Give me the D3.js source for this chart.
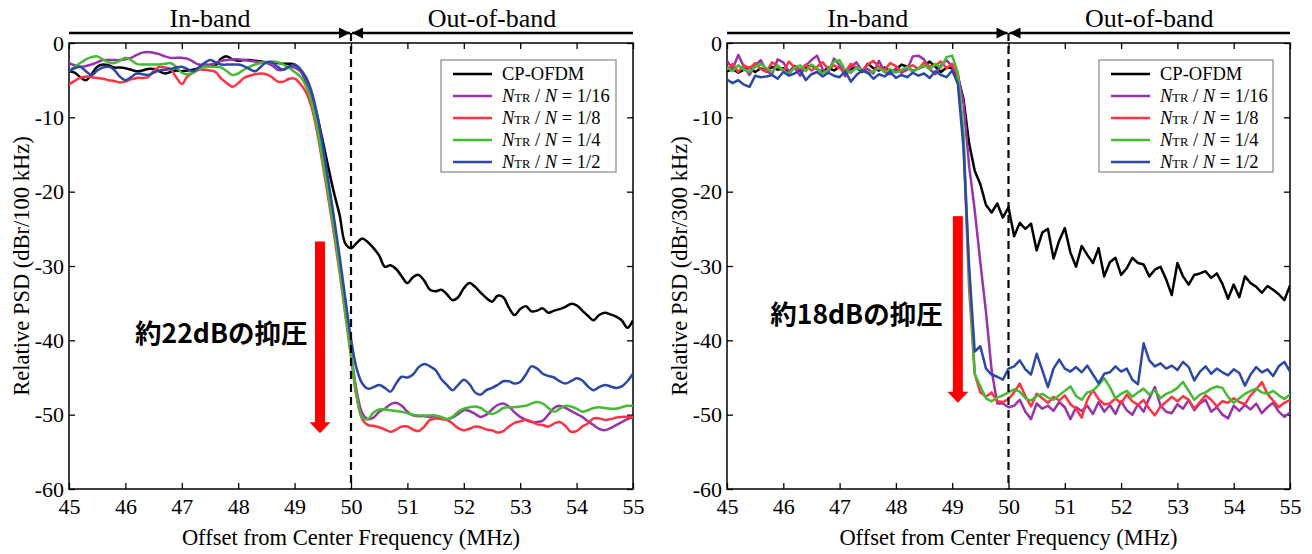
<!DOCTYPE html>
<html lang="ja">
<head>
<meta charset="UTF-8">
<title>PSD comparison</title>
<script src="https://cdn.jsdelivr.net/npm/d3@7"></script>
<style>
  body { margin: 0; background: #fff; }
  text { font-family: "Liberation Serif", "Times New Roman", serif; fill: #000; }
  .jp { font-family: "Noto Sans CJK JP", "Noto Sans", sans-serif; font-weight: bold; }
</style>
</head>
<body>
<svg id="chart" width="1312" height="554"></svg>
<script>
// frequency grid (MHz)
var freq = [45.0,45.1,45.2,45.3,45.4,45.5,45.6,45.7,45.8,45.9,
  46.0,46.1,46.2,46.3,46.4,46.5,46.6,46.7,46.8,46.9,
  47.0,47.1,47.2,47.3,47.4,47.5,47.6,47.7,47.8,47.9,
  48.0,48.1,48.2,48.3,48.4,48.5,48.6,48.7,48.8,48.9,
  49.0,49.1,49.2,49.3,49.4,49.5,49.6,49.7,49.8,49.9,
  50.0,50.1,50.2,50.3,50.4,50.5,50.6,50.7,50.8,50.9,
  51.0,51.1,51.2,51.3,51.4,51.5,51.6,51.7,51.8,51.9,
  52.0,52.1,52.2,52.3,52.4,52.5,52.6,52.7,52.8,52.9,
  53.0,53.1,53.2,53.3,53.4,53.5,53.6,53.7,53.8,53.9,
  54.0,54.1,54.2,54.3,54.4,54.5,54.6,54.7,54.8,54.9,55.0];

var xTicks = [45,46,47,48,49,50,51,52,53,54,55];
var yTicks = [0,-10,-20,-30,-40,-50,-60];

var seriesLabels = ["CP-OFDM", "1/16", "1/8", "1/4", "1/2"];
var seriesColors = ["#000000", "#9933aa", "#ff3344", "#44bb33", "#2b48a8"];

// left panel, 100 kHz RBW
var left_cp = [-3.8,-4.0,-4.6,-5.0,-4.2,-3.2,-2.9,-3.0,-3.3,-3.3,
  -3.4,-3.6,-3.8,-3.7,-3.5,-3.5,-3.8,-4.1,-3.9,-3.7,
  -3.8,-3.7,-3.6,-3.4,-3.2,-3.2,-3.0,-2.1,-1.8,-2.2,
  -2.4,-2.3,-2.3,-2.4,-2.5,-2.6,-2.6,-2.7,-2.8,-2.8,
  -2.9,-3.6,-5.2,-7.0,-9.8,-13.2,-16.8,-20.2,-23.2,-27.0,
  -27.6,-26.9,-26.3,-26.8,-27.6,-28.6,-30.1,-29.9,-30.4,-31.4,
  -32.3,-31.5,-31.2,-32.0,-33.2,-33.4,-33.2,-33.8,-34.6,-34.2,
  -33.0,-32.3,-32.8,-33.6,-34.3,-34.8,-34.0,-34.2,-35.6,-36.6,
  -35.8,-35.4,-36.1,-36.0,-35.7,-36.3,-36.0,-35.8,-35.5,-35.1,
  -35.3,-36.0,-36.7,-37.3,-36.6,-36.3,-36.5,-36.8,-37.3,-38.3,-37.3];
var left_16 = [-2.7,-3.0,-3.2,-3.1,-2.9,-2.6,-2.3,-2.3,-2.3,-2.3,
  -2.2,-2.0,-1.6,-1.3,-1.2,-1.3,-1.5,-1.8,-2.0,-2.0,
  -2.0,-2.1,-2.5,-2.9,-2.9,-2.9,-2.7,-2.4,-2.3,-2.2,
  -2.2,-2.3,-2.4,-2.5,-2.6,-2.7,-3.0,-3.6,-3.6,-3.2,
  -3.3,-3.8,-5.0,-7.3,-10.8,-15.2,-19.8,-24.6,-29.8,-35.6,
  -41.5,-46.8,-49.8,-50.6,-50.4,-49.6,-49.2,-48.6,-48.4,-48.8,
  -49.6,-50.1,-50.2,-50.2,-50.3,-50.2,-50.4,-50.6,-50.4,-49.9,
  -49.4,-49.5,-49.9,-50.3,-50.0,-49.3,-48.7,-48.5,-48.9,-49.7,
  -50.3,-50.7,-51.0,-51.0,-50.8,-50.0,-49.1,-48.8,-49.1,-49.5,
  -49.9,-50.3,-50.9,-51.4,-51.9,-52.1,-51.8,-51.4,-51.0,-50.6,-50.3];
var left_8 = [-5.6,-5.1,-4.7,-4.5,-4.6,-4.7,-4.8,-5.0,-5.1,-5.3,
  -5.2,-4.9,-4.7,-4.7,-4.6,-3.8,-3.2,-3.3,-3.5,-4.6,
  -5.5,-4.5,-4.0,-3.6,-3.6,-3.7,-3.9,-4.8,-5.4,-5.9,
  -5.4,-4.7,-4.4,-4.2,-4.1,-4.2,-4.6,-5.2,-5.2,-4.8,
  -4.8,-5.5,-6.6,-8.6,-12.0,-16.4,-21.0,-25.8,-31.0,-36.6,
  -42.2,-47.6,-50.6,-51.4,-51.5,-51.7,-52.0,-52.3,-52.0,-51.6,
  -51.6,-52.0,-52.2,-51.6,-50.7,-50.5,-50.6,-50.7,-51.2,-51.8,
  -52.1,-51.9,-51.6,-51.7,-52.0,-52.1,-52.4,-52.2,-51.6,-51.1,
  -50.9,-50.7,-50.9,-51.3,-51.4,-51.6,-51.2,-51.0,-51.5,-52.3,
  -52.2,-51.6,-51.2,-50.5,-50.5,-50.7,-50.6,-50.4,-50.3,-50.3,-50.3];
var left_4 = [-3.8,-3.2,-2.7,-2.2,-1.9,-1.8,-2.2,-2.6,-2.7,-2.4,
  -2.0,-2.3,-2.8,-2.9,-2.9,-2.9,-2.9,-2.8,-2.7,-3.2,
  -4.0,-4.2,-4.0,-3.5,-3.2,-3.2,-3.2,-3.3,-3.8,-4.3,
  -4.1,-3.6,-3.2,-2.9,-2.7,-2.6,-2.5,-2.6,-2.9,-3.3,
  -3.9,-4.5,-5.8,-8.0,-11.4,-15.8,-20.4,-25.2,-30.4,-36.2,
  -42.0,-47.4,-50.4,-50.6,-49.7,-49.3,-49.3,-49.4,-49.5,-49.6,
  -49.8,-50.0,-50.1,-50.1,-50.1,-50.1,-50.3,-50.6,-50.3,-49.6,
  -49.2,-49.0,-48.9,-49.1,-49.6,-49.9,-49.6,-49.1,-49.0,-49.0,
  -48.9,-48.8,-48.5,-48.3,-48.5,-49.1,-49.6,-49.2,-48.8,-48.9,
  -49.2,-49.6,-49.4,-49.1,-49.0,-49.1,-49.2,-49.2,-49.0,-48.8,-48.8];
var left_2 = [-3.8,-3.4,-3.2,-3.8,-4.3,-3.7,-3.3,-3.2,-3.6,-4.5,
  -5.0,-4.6,-4.1,-4.2,-4.3,-4.0,-3.7,-3.6,-3.5,-3.3,
  -3.2,-3.5,-3.8,-3.3,-2.7,-2.3,-2.6,-2.9,-2.9,-2.9,
  -2.9,-3.1,-3.5,-3.8,-3.2,-2.6,-2.6,-3.2,-3.6,-3.2,
  -2.9,-3.5,-4.6,-6.5,-9.6,-13.8,-18.6,-23.6,-28.8,-34.4,
  -39.8,-43.8,-45.8,-46.5,-46.3,-46.0,-46.4,-46.9,-45.8,-44.9,
  -45.0,-44.6,-43.6,-43.2,-43.5,-44.0,-45.2,-46.0,-46.7,-46.0,
  -45.3,-45.9,-47.0,-47.3,-46.7,-46.4,-46.0,-45.5,-45.5,-45.8,
  -45.6,-44.6,-43.5,-43.8,-44.5,-44.8,-45.0,-45.5,-45.8,-45.5,
  -45.1,-45.4,-46.2,-46.7,-46.3,-46.0,-46.2,-46.4,-46.2,-45.5,-44.5];

// right panel, 300 kHz RBW
var right_cp = [-3.8,-3.5,-4.0,-3.6,-3.3,-3.9,-3.4,-3.8,-3.2,-3.6,
  -3.4,-3.9,-3.1,-3.6,-3.3,-3.0,-3.5,-3.9,-3.3,-3.7,
  -3.2,-3.8,-3.5,-3.3,-3.9,-2.8,-3.4,-3.7,-3.3,-3.8,
  -3.6,-2.9,-3.2,-3.8,-3.4,-3.1,-2.5,-3.2,-3.9,-3.3,
  -3.4,-4.5,-7.5,-13.5,-17.2,-19.0,-21.8,-22.8,-21.6,-23.5,
  -22.1,-26.0,-24.2,-25.0,-24.3,-27.9,-25.5,-25.0,-29.0,-26.6,
  -24.9,-28.2,-30.1,-27.3,-28.5,-29.6,-27.6,-31.4,-29.5,-28.9,
  -31.2,-30.3,-28.9,-29.6,-29.8,-31.4,-30.5,-30.1,-31.8,-33.9,
  -29.6,-31.4,-32.5,-31.2,-31.0,-30.7,-31.6,-31.0,-32.4,-34.4,
  -32.5,-34.2,-31.4,-32.3,-32.8,-33.6,-32.7,-33.2,-33.8,-34.6,-32.6];
var right_16 = [-2.4,-3.5,-1.6,-3.2,-4.3,-3.0,-2.3,-3.8,-4.2,-2.2,
  -2.6,-3.9,-3.3,-4.4,-3.0,-2.3,-1.7,-3.6,-4.0,-2.1,
  -3.0,-4.5,-3.2,-2.6,-3.8,-3.5,-4.1,-2.4,-3.9,-4.2,
  -3.4,-4.0,-3.6,-1.8,-1.7,-2.2,-3.5,-4.2,-3.0,-2.3,
  -3.2,-4.2,-8.0,-16.5,-22.5,-29.5,-36.2,-44.0,-48.5,-48.5,
  -49.0,-48.8,-48.0,-49.6,-50.6,-48.5,-49.2,-48.8,-49.5,-48.3,
  -49.0,-50.6,-49.0,-49.5,-48.8,-49.9,-48.3,-49.6,-48.7,-49.9,
  -48.2,-49.4,-50.0,-48.6,-49.6,-47.8,-46.3,-48.8,-49.6,-49.8,
  -48.6,-49.2,-48.0,-49.4,-48.5,-48.0,-49.6,-49.0,-50.0,-50.5,
  -48.8,-49.5,-48.7,-49.3,-48.5,-49.8,-49.0,-48.4,-49.6,-50.3,-49.7];
var right_8 = [-3.6,-2.8,-3.9,-3.0,-3.4,-2.7,-3.5,-3.9,-2.6,-3.1,
  -3.8,-2.5,-3.3,-3.6,-2.9,-3.7,-3.2,-2.6,-3.5,-3.0,
  -3.4,-3.9,-2.8,-3.3,-3.7,-2.9,-2.4,-3.2,-3.6,-2.7,
  -3.1,-3.8,-3.3,-3.0,-3.5,-2.6,-3.2,-3.0,-2.5,-3.4,
  -2.8,-4.5,-13.0,-33.0,-44.5,-47.0,-47.6,-47.0,-48.2,-48.3,
  -47.9,-47.0,-45.8,-47.5,-48.9,-47.2,-47.8,-48.4,-47.6,-48.1,
  -47.4,-48.6,-49.2,-50.4,-48.0,-46.7,-47.9,-48.6,-48.5,-47.8,
  -48.5,-47.3,-48.2,-48.7,-48.0,-49.2,-50.1,-48.9,-48.3,-47.6,
  -48.2,-47.5,-48.0,-49.2,-48.3,-47.4,-48.0,-48.9,-48.2,-48.4,
  -47.8,-48.3,-48.6,-47.4,-46.6,-45.6,-47.2,-48.1,-49.0,-48.4,-48.0];
var right_4 = [-3.3,-3.8,-3.0,-3.6,-3.9,-3.2,-2.8,-3.4,-3.9,-3.0,
  -3.7,-4.2,-3.3,-3.0,-3.8,-2.9,-3.4,-4.1,-3.6,-2.5,
  -2.3,-3.7,-4.0,-3.3,-3.6,-4.1,-3.8,-3.4,-3.9,-3.5,
  -4.0,-3.6,-3.2,-3.9,-3.4,-3.0,-3.5,-2.8,-3.3,-1.9,
  -1.7,-4.0,-12.0,-31.0,-44.5,-46.2,-47.8,-48.2,-47.7,-47.4,
  -47.0,-46.6,-46.9,-47.8,-48.1,-47.5,-47.2,-47.7,-48.0,-47.4,
  -46.8,-46.2,-47.5,-48.0,-47.0,-46.8,-46.0,-45.1,-46.3,-47.8,
  -47.2,-46.8,-47.6,-47.0,-46.5,-47.3,-46.7,-47.8,-47.2,-46.9,
  -46.4,-45.6,-46.8,-48.0,-47.3,-47.0,-46.5,-46.2,-46.4,-47.6,
  -48.4,-47.8,-47.2,-46.8,-46.5,-47.0,-47.2,-46.8,-47.4,-47.9,-47.3];
var right_2 = [-4.9,-5.4,-5.0,-5.6,-5.9,-4.4,-4.6,-4.5,-4.3,-4.8,
  -3.9,-4.4,-4.1,-3.7,-5.0,-4.2,-3.9,-4.5,-4.0,-4.4,
  -4.6,-3.8,-5.2,-4.3,-3.7,-4.0,-4.8,-4.2,-4.5,-3.9,
  -4.7,-4.3,-4.6,-4.0,-4.4,-4.1,-4.7,-3.8,-4.3,-4.6,
  -3.7,-5.5,-14.0,-30.0,-41.5,-40.8,-43.8,-44.6,-44.9,-45.3,
  -43.8,-43.5,-42.7,-43.9,-44.6,-41.8,-44.0,-46.3,-43.8,-42.6,
  -43.8,-44.2,-43.6,-44.3,-43.4,-44.6,-45.8,-44.5,-44.3,-43.5,
  -44.2,-43.8,-45.3,-45.9,-40.4,-42.7,-43.5,-43.1,-43.8,-43.4,
  -44.0,-42.9,-43.6,-45.4,-44.2,-43.5,-44.5,-43.8,-44.3,-44.7,
  -43.9,-44.4,-46.1,-44.6,-43.6,-44.3,-43.9,-44.8,-43.5,-42.9,-44.2];

var svg = d3.select("#chart");

var panels = [
  {
    id: "L", x0: 69, x1: 633, yTitle: "Relative PSD (dBr/100 kHz)", titleX: 21,
    series: [left_cp, left_16, left_8, left_4, left_2],
    curve: d3.curveCatmullRom,
    legend: {x: 441, y: 60, w: 175, h: 112},
    note: "約22dBの抑圧", noteAt: [47.7, -40.4],
    arrow: {f: 49.45, from: -26.7, to: -52.5}
  },
  {
    id: "R", x0: 727, x1: 1290, yTitle: "Relative PSD (dBr/300 kHz)", titleX: 679,
    series: [right_cp, right_16, right_8, right_4, right_2],
    curve: d3.curveLinear,
    legend: {x: 1099, y: 60, w: 174, h: 112},
    note: "約18dBの抑圧", noteAt: [47.3, -37.8],
    arrow: {f: 49.1, from: -23.3, to: -48.4}
  }
];

var plotTop = 43, plotBottom = 489, headerY = 33;

svg.append("defs").selectAll("marker")
  .data(["head"])
  .enter().append("marker")
  .attr("id", "head")
  .attr("viewBox", "0 0 10 10")
  .attr("refX", 10).attr("refY", 5)
  .attr("markerWidth", 5).attr("markerHeight", 4.4)
  .attr("markerUnits", "strokeWidth")
  .attr("orient", "auto")
  .append("path").attr("d", "M0,0L10,5L0,10z").attr("fill", "#000");

panels.forEach(function (p) {
  var x = d3.scaleLinear().domain([45, 55]).range([p.x0, p.x1]);
  var y = d3.scaleLinear().domain([-60, 0]).range([plotBottom, plotTop]);
  var g = svg.append("g");

  g.append("clipPath").attr("id", "clip" + p.id)
    .append("rect").attr("x", p.x0).attr("y", plotTop)
    .attr("width", p.x1 - p.x0).attr("height", plotBottom - plotTop);

  // axes with inward ticks
  g.append("g").attr("transform", "translate(0," + plotBottom + ")")
    .call(d3.axisBottom(x).tickValues(xTicks).tickSize(-6).tickPadding(9).tickFormat(d3.format("d")))
    .call(styleAxis);
  g.append("g").attr("transform", "translate(0," + plotTop + ")")
    .call(d3.axisTop(x).tickValues(xTicks).tickSize(-6).tickFormat(""))
    .call(styleAxis);
  g.append("g").attr("transform", "translate(" + p.x0 + ",0)")
    .call(d3.axisLeft(y).tickValues(yTicks).tickSize(-6).tickPadding(5).tickFormat(function (d) { return String(d); }))
    .call(styleAxis);
  g.append("g").attr("transform", "translate(" + p.x1 + ",0)")
    .call(d3.axisRight(y).tickValues(yTicks).tickSize(-6).tickFormat(""))
    .call(styleAxis);

  g.append("rect").attr("x", p.x0).attr("y", plotTop)
    .attr("width", p.x1 - p.x0).attr("height", plotBottom - plotTop)
    .attr("fill", "none").attr("stroke", "#000").attr("stroke-width", 1.5);

  // curves
  var line = d3.line()
    .x(function (d, i) { return x(freq[i]); })
    .y(function (d) { return y(d); })
    .curve(p.curve);
  g.append("g").attr("clip-path", "url(#clip" + p.id + ")")
    .selectAll("path").data(p.series).enter().append("path")
    .attr("d", line)
    .attr("fill", "none")
    .attr("stroke", function (d, i) { return seriesColors[i]; })
    .attr("stroke-width", 2.5)
    .attr("stroke-linejoin", "round");

  // band boundary
  g.append("line").attr("x1", x(50)).attr("x2", x(50))
    .attr("y1", headerY).attr("y2", plotBottom)
    .attr("stroke", "#000").attr("stroke-width", 2.2).attr("stroke-dasharray", "8,5");

  // header arrows
  g.append("line").attr("x1", x(45)).attr("x2", x(50) - 1)
    .attr("y1", headerY).attr("y2", headerY)
    .attr("stroke", "#000").attr("stroke-width", 2.5).attr("marker-end", "url(#head)");
  g.append("line").attr("x1", x(55)).attr("x2", x(50) + 1)
    .attr("y1", headerY).attr("y2", headerY)
    .attr("stroke", "#000").attr("stroke-width", 2.5).attr("marker-end", "url(#head)");
  g.append("text").attr("x", x(47.5)).attr("y", 27).attr("text-anchor", "middle")
    .attr("font-size", 26).text("In-band");
  g.append("text").attr("x", x(52.5)).attr("y", 27).attr("text-anchor", "middle")
    .attr("font-size", 26).text("Out-of-band");

  // axis titles
  g.append("text").attr("x", (p.x0 + p.x1) / 2).attr("y", 545).attr("text-anchor", "middle")
    .attr("font-size", 22.5).text("Offset from Center Frequency (MHz)");
  g.append("text").attr("transform", "translate(" + p.titleX + "," + ((plotTop + plotBottom) / 2) + ") rotate(-90)")
    .attr("text-anchor", "middle").attr("dy", "0.35em")
    .attr("font-size", 22.5).text(p.yTitle);

  // legend
  var lg = g.append("g").attr("transform", "translate(" + p.legend.x + "," + p.legend.y + ")");
  lg.append("rect").attr("width", p.legend.w).attr("height", p.legend.h)
    .attr("fill", "#fff").attr("stroke", "#888").attr("stroke-width", 1.2);
  var rows = lg.selectAll("g.row").data(seriesLabels).enter().append("g")
    .attr("class", "row")
    .attr("transform", function (d, i) { return "translate(0," + (14 + i * 22) + ")"; });
  rows.append("line").attr("x1", 12).attr("x2", 51).attr("y1", 0).attr("y2", 0)
    .attr("stroke", function (d, i) { return seriesColors[i]; }).attr("stroke-width", 2.5);
  rows.each(function (d, i) {
    var t = d3.select(this).append("text").attr("x", 61).attr("y", 6).attr("font-size", 18.5);
    if (i === 0) { t.text(d); return; }
    t.append("tspan").attr("font-style", "italic").text("N");
    t.append("tspan").attr("font-size", 12.5).text("TR");
    t.append("tspan").text(" / ");
    t.append("tspan").attr("font-style", "italic").text("N");
    t.append("tspan").text(" = " + d);
  });

  // suppression annotation
  var ax = x(p.arrow.f), ay0 = y(p.arrow.from), ay1 = y(p.arrow.to);
  g.append("rect").attr("x", ax - 5).attr("y", ay0).attr("width", 10).attr("height", ay1 - ay0 - 10)
    .attr("fill", "#ff0000");
  g.append("path")
    .attr("d", "M" + (ax - 10.5) + "," + (ay1 - 11) + "L" + (ax + 10.5) + "," + (ay1 - 11) + "L" + ax + "," + ay1 + "Z")
    .attr("fill", "#ff0000");
  g.append("text").attr("class", "jp").attr("x", x(p.noteAt[0])).attr("y", y(p.noteAt[1]))
    .attr("text-anchor", "middle").attr("font-size", 26.5).text(p.note);
});

function styleAxis(sel) {
  sel.select(".domain").remove();
  sel.selectAll(".tick line").attr("stroke", "#000").attr("stroke-width", 1.3);
  sel.selectAll(".tick text").attr("font-size", 22).attr("fill", "#000")
    .attr("font-family", "Liberation Serif, Times New Roman, serif");
}
</script>
</body>
</html>
